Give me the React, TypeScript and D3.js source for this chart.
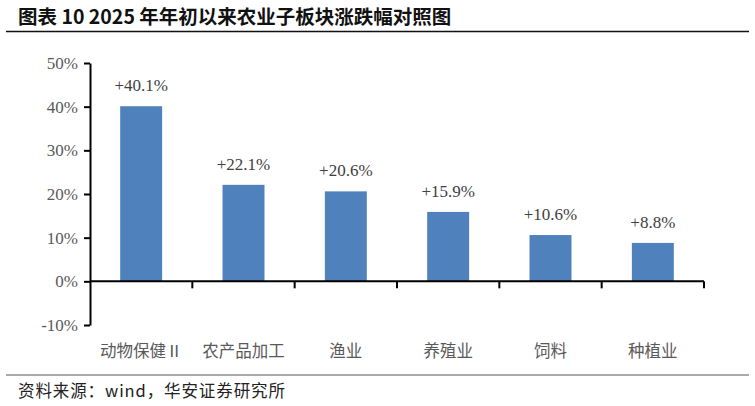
import React, { useRef, useEffect } from 'react';
import * as d3 from 'd3';

const categories = ['动物保健Ⅱ', '农产品加工', '渔业', '养殖业', '饲料', '种植业'];
const changes = [40.1, 22.1, 20.6, 15.9, 10.6, 8.8];
const yTicks = [-10, 0, 10, 20, 30, 40, 50];

const title = '图表 10 2025 年年初以来农业子板块涨跌幅对照图';
const source = '资料来源：wind，华安证券研究所';

const W = 755;
const H = 406;
const plot = { left: 90, right: 704, top: 63, bottom: 325 };
const serif = "'Liberation Serif', serif";
const cjk = "'Noto Sans CJK SC', sans-serif";

const App: React.FC = () => {
  const svgRef = useRef<SVGSVGElement>(null);

  useEffect(() => {
    if (!svgRef.current) return;
    const svg = d3.select(svgRef.current);
    svg.selectAll('*').remove();

    // Title and rules
    svg.append('text')
      .attr('x', 18)
      .attr('y', 24)
      .style('font-family', cjk)
      .style('font-weight', 700)
      .style('font-size', '19.5px')
      .attr('fill', '#111')
      .text(title);

    svg.append('line')
      .attr('x1', 6).attr('x2', 749)
      .attr('y1', 31.5).attr('y2', 31.5)
      .attr('stroke', '#111').attr('stroke-width', 1.5);

    svg.append('line')
      .attr('x1', 6).attr('x2', 749)
      .attr('y1', 375).attr('y2', 375)
      .attr('stroke', '#555').attr('stroke-width', 1);

    svg.append('text')
      .attr('x', 18)
      .attr('y', 397)
      .style('font-family', cjk)
      .style('font-size', '16.5px')
      .style('letter-spacing', '0.9px')
      .attr('fill', '#222')
      .text(source);

    const x = d3.scaleBand<string>()
      .domain(categories)
      .range([plot.left, plot.right])
      .paddingInner(0)
      .paddingOuter(0);

    const y = d3.scaleLinear()
      .domain([-10, 50])
      .range([plot.bottom, plot.top]);

    const barW = x.bandwidth() * 0.41;

    // Bars
    svg.append('g')
      .selectAll('rect')
      .data(changes)
      .enter()
      .append('rect')
      .attr('x', (d, i) => (x(categories[i]) || 0) + x.bandwidth() / 2 - barW / 2)
      .attr('y', d => y(d))
      .attr('width', barW)
      .attr('height', d => y(0) - y(d))
      .attr('fill', '#4F81BD');

    // Value labels
    svg.append('g')
      .selectAll('text')
      .data(changes)
      .enter()
      .append('text')
      .attr('x', (d, i) => (x(categories[i]) || 0) + x.bandwidth() / 2)
      .attr('y', d => y(d) - 15)
      .attr('text-anchor', 'middle')
      .attr('font-family', serif)
      .attr('font-size', 17)
      .attr('fill', '#404040')
      .text(d => `+${d.toFixed(1)}%`);

    // Y axis
    const yAxis = svg.append('g')
      .attr('transform', `translate(${plot.left},0)`)
      .call(d3.axisLeft(y).tickValues(yTicks).tickSize(6).tickSizeOuter(0).tickFormat(d => `${d}%`))
      .attr('font-family', serif)
      .attr('font-size', 17);
    yAxis.select('.domain').attr('stroke', '#000').attr('stroke-width', 2);
    yAxis.selectAll('.tick line').attr('stroke', '#000').attr('stroke-width', 2);
    yAxis.selectAll('.tick text')
      .attr('x', -12)
      .attr('fill', '#595959');

    // X axis at 0
    const xAxis = svg.append('g')
      .attr('transform', `translate(0,${y(0)})`);
    xAxis.append('line')
      .attr('x1', plot.left).attr('x2', plot.right)
      .attr('stroke', '#000').attr('stroke-width', 2);
    const bounds = categories.map(c => (x(c) || 0) + x.bandwidth());
    xAxis.selectAll('.xtick')
      .data(bounds)
      .enter()
      .append('line')
      .attr('x1', d => d).attr('x2', d => d)
      .attr('y1', 0).attr('y2', 7)
      .attr('stroke', '#000').attr('stroke-width', 2);

    // Category labels
    svg.append('g')
      .selectAll('text')
      .data(categories)
      .enter()
      .append('text')
      .attr('x', d => (x(d) || 0) + x.bandwidth() / 2)
      .attr('y', 357)
      .attr('text-anchor', 'middle')
      .style('font-family', cjk)
      .style('font-size', '16.5px')
      .attr('fill', '#595959')
      .text(d => d);
  }, []);

  return (
    <svg ref={svgRef} width={W} height={H} style={{ position: 'absolute', left: 0, top: 0, background: '#fff' }} />
  );
};

export default App;
